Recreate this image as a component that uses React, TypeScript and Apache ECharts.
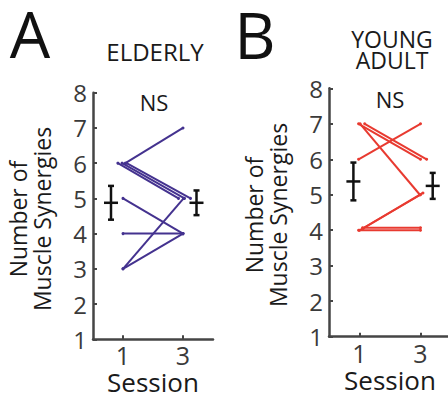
import React, { useEffect, useRef } from "react";
import * as echarts from "echarts";

// ---- data ----
const sessionTicks = [1, 3];
const yMin = 1;
const yMax = 8;

// Elderly subjects: synergies at session 1 and session 3
const elderlyS1 = [6, 6, 6, 6, 5, 4, 3, 3];
const elderlyS3 = [7, 5, 5, 5, 4, 4, 4, 5];
const elderlyX1 = [1.08, 0.83, 0.97, 1.12, 1.0, 1.0, 1.0, 1.0];
const elderlyX3 = [3.0, 2.85, 3.05, 3.25, 3.0, 3.0, 3.0, 3.02];
const elderlyBarX = [0.6, 3.45];

// Young adult subjects
const youngS1 = [7, 7, 6, 7, 4, 4, 4, 4];
const youngS3 = [6, 6, 7, 5, 5, 5, 4, 4];
const youngX1 = [0.97, 1.17, 0.97, 1.02, 1.0, 1.12, 0.97, 1.1];
const youngX3 = [3.0, 3.2, 3.0, 2.98, 3.0, 3.08, 3.0, 3.0];
const youngYJitter = [0, 0, 0, 0, 0, 0.05, 0, 0.07];
const youngBarX = [0.8, 3.4];

const FONT = "'Open Sans', 'Noto Sans', sans-serif";
const PURPLE = "#44328f";
const RED = "#e83a30";
const AXIS = "#454545";

function mean(a: number[]) {
  return a.reduce((s, v) => s + v, 0) / a.length;
}
function sem(a: number[]) {
  const m = mean(a);
  const v = a.reduce((s, x) => s + (x - m) * (x - m), 0) / (a.length - 1);
  return Math.sqrt(v) / Math.sqrt(a.length);
}

function subjectSeries(
  s1: number[], s3: number[], x1: number[], x3: number[], yj: number[] | null,
  color: string, idx: number
) {
  return s1.map((v, i) => ({
    type: "line",
    xAxisIndex: idx,
    yAxisIndex: idx,
    data: [
      [x1[i], v + (yj ? yj[i] : 0)],
      [x3[i], s3[i] + (yj ? yj[i] : 0)],
    ],
    symbol: "circle",
    symbolSize: 3,
    showSymbol: true,
    itemStyle: { color },
    lineStyle: { color, width: 2 },
    silent: true,
    z: 2,
  }));
}

function errorSeries(barX: number[], s1: number[], s3: number[], idx: number) {
  return {
    type: "custom",
    xAxisIndex: idx,
    yAxisIndex: idx,
    clip: false,
    encode: { x: 0, y: 1 },
    data: [
      [barX[0], mean(s1), sem(s1)],
      [barX[1], mean(s3), sem(s3)],
    ],
    z: 5,
    renderItem: (_p: any, api: any) => {
      const x = api.value(0);
      const m = api.value(1);
      const e = api.value(2);
      const c = api.coord([x, m]);
      const t = api.coord([x, m + e]);
      const b = api.coord([x, m - e]);
      const st = { stroke: "#111", lineWidth: 2.5 };
      return {
        type: "group",
        children: [
          { type: "line", shape: { x1: c[0], y1: t[1], x2: c[0], y2: b[1] }, style: st },
          { type: "line", shape: { x1: c[0] - 3, y1: t[1], x2: c[0] + 3, y2: t[1] }, style: st },
          { type: "line", shape: { x1: c[0] - 3, y1: b[1], x2: c[0] + 3, y2: b[1] }, style: st },
          { type: "line", shape: { x1: c[0] - 7, y1: c[1], x2: c[0] + 7, y2: c[1] }, style: st },
        ],
      };
    },
  };
}

function xAxis(idx: number) {
  return {
    type: "value",
    gridIndex: idx,
    min: 0,
    max: 4,
    axisLine: { show: true, onZero: false, lineStyle: { color: AXIS, width: 2.5 } },
    axisTick: { show: true, inside: true, length: 4, customValues: sessionTicks, lineStyle: { color: AXIS, width: 2 } },
    axisLabel: { customValues: sessionTicks, fontSize: 25, color: "#3a3a3a", margin: 5, fontFamily: FONT, lineHeight: 22 },
    splitLine: { show: false },
    name: "Session",
    nameLocation: "middle",
    nameGap: 31,
    nameMoveOverlap: false,
    nameTextStyle: { fontSize: 26, color: "#1a1a1a", fontFamily: FONT, lineHeight: 24 },
  };
}

function yAxis(idx: number) {
  return {
    type: "value",
    gridIndex: idx,
    min: yMin,
    max: yMax,
    interval: 1,
    axisLine: { show: true, onZero: false, lineStyle: { color: AXIS, width: 2.5 } },
    axisTick: { show: true, inside: true, length: 4, lineStyle: { color: AXIS, width: 2 } },
    axisLabel: { fontSize: 24, color: "#3a3a3a", margin: 6, fontFamily: FONT },
    splitLine: { show: false },
  };
}

function txt(text: string, x: number, y: number, size: number, extra: any = {}) {
  return {
    type: "text",
    x,
    y,
    silent: true,
    style: {
      text,
      fontSize: size,
      fontFamily: FONT,
      fill: "#1a1a1a",
      align: "center",
      verticalAlign: "middle",
      ...(extra.style || {}),
    },
    ...(extra.el || {}),
  };
}

export default function App() {
  const ref = useRef<HTMLDivElement>(null);
  useEffect(() => {
    if (!ref.current) return;
    const chart = echarts.init(ref.current, null, { renderer: "svg" });
    chart.setOption({
      animation: false,
      backgroundColor: "#ffffff",
      grid: [
        { left: 93, top: 92.7, width: 120, height: 246.6, outerBoundsMode: "none", containLabel: false },
        { left: 329, top: 88.3, width: 122, height: 248.4, outerBoundsMode: "none", containLabel: false },
      ],
      xAxis: [xAxis(0), xAxis(1)],
      yAxis: [yAxis(0), yAxis(1)],
      series: [
        ...subjectSeries(elderlyS1, elderlyS3, elderlyX1, elderlyX3, null, PURPLE, 0),
        ...subjectSeries(youngS1, youngS3, youngX1, youngX3, youngYJitter, RED, 1),
        errorSeries(elderlyBarX, elderlyS1, elderlyS3, 0),
        errorSeries(youngBarX, youngS1, youngS3, 1),
      ],
      graphic: [
        txt("A", 30, 33, 64, { style: { fill: "#111", lineHeight: 50 } }),
        txt("B", 255, 34, 64, { style: { fill: "#111", lineHeight: 50 } }),
        txt("ELDERLY", 155, 51, 24),
        txt("YOUNG\nADULT", 392, 49, 23, { style: { lineHeight: 21 } }),
        txt("NS", 154, 101.5, 22),
        txt("NS", 390, 98.5, 22),
        txt("Number of\nMuscle Synergies", 30, 219, 23, {
          style: { lineHeight: 24 },
          el: { rotation: Math.PI / 2 },
        }),
        txt("Number of\nMuscle Synergies", 266, 215, 23, {
          style: { lineHeight: 24 },
          el: { rotation: Math.PI / 2 },
        }),
      ],
    });
    return () => chart.dispose();
  }, []);
  return (
    <div
      ref={ref}
      style={{ position: "absolute", left: 0, top: 0, width: 448, height: 396, background: "#fff" }}
    />
  );
}
